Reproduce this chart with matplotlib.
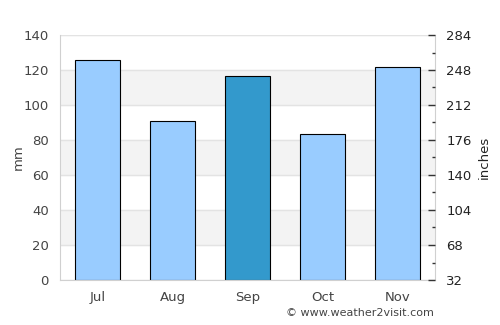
import matplotlib
matplotlib.use("Agg")
import matplotlib.pyplot as plt

months = ["Jul", "Aug", "Sep", "Oct", "Nov"]
rain_mm = [125.5, 90.7, 116.4, 83.2, 121.9]
highlight = "Sep"
left_ticks = [0, 20, 40, 60, 80, 100, 120, 140]
right_ticks = [32, 68, 104, 140, 176, 212, 248, 284]

text_col = "#444444"
grid_col = "#e3e3e3"

fig = plt.figure(figsize=(5, 3.25), dpi=100)
ax = fig.add_axes([60 / 500, 45 / 325, 375 / 500, 245 / 325])

# alternating bands
for lo in range(0, 140, 40):
    ax.axhspan(lo + 20, lo + 40, color="#f3f3f3", zorder=0)
for t in left_ticks:
    ax.axhline(t, color=grid_col, lw=1, zorder=0.5)

colors = ["#3399cc" if m == highlight else "#99ccff" for m in months]
ax.bar(range(len(months)), rain_mm, width=0.6, color=colors,
       edgecolor="black", linewidth=0.8, zorder=2)

ax.set_xlim(-0.5, len(months) - 0.5)
ax.set_ylim(0, 140)
ax.set_yticks(left_ticks)
ax.set_xticks(range(len(months)), months)
ax.tick_params(axis="y", length=0, pad=8, labelsize=9.5, labelcolor=text_col)
ax.tick_params(axis="x", length=0, pad=8, labelsize=9.5, labelcolor=text_col)
for s in ["left", "bottom", "right"]:
    ax.spines[s].set_color("#d0d0d0")
ax.spines["top"].set_visible(False)
ax.set_ylabel("mm", color=text_col, fontsize=9.5)
ax.yaxis.set_label_coords(-0.093, 0.5)

ax2 = ax.twinx()
ax2.set_ylim(32, 284)
ax2.set_yticks(right_ticks)
ax2.set_yticks([t + 18 for t in right_ticks[:-1]], minor=True)
ax2.tick_params(axis="y", which="major", direction="in", length=5, width=1,
                pad=8, labelsize=9.5, labelcolor="#222222", color="#333333")
ax2.tick_params(axis="y", which="minor", direction="in", length=2, width=1,
                color="#333333")
for s in ax2.spines.values():
    s.set_visible(False)
ax2.set_ylabel("inches", color="#222222", fontsize=9.5)
ax2.yaxis.set_label_coords(1.115, 0.5)

fig.text(434 / 500, 1 - 313 / 325, "© www.weather2visit.com", ha="right",
         va="center", fontsize=8, color=text_col)

fig.savefig("out.png", dpi=100)
